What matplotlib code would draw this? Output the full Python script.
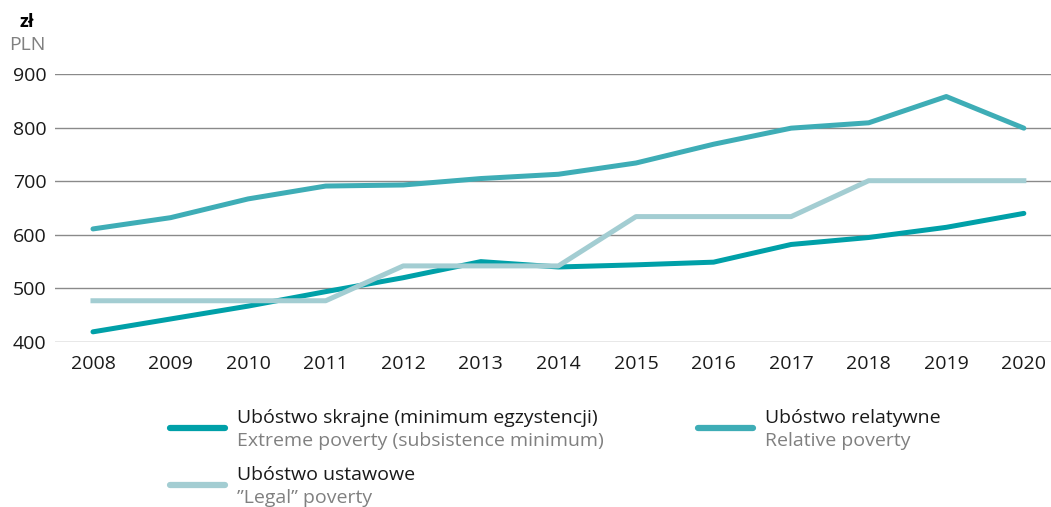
import matplotlib.pyplot as plt
from matplotlib.lines import Line2D

plt.rcParams['font.family'] = ['Open Sans', 'DejaVu Sans']

# dane
years = [2008, 2009, 2010, 2011, 2012, 2013, 2014, 2015, 2016, 2017, 2018, 2019, 2020]
skrajne = [419, 443, 467, 494, 520, 550, 540, 544, 549, 582, 595, 614, 640]
relatywne = [611, 632, 667, 691, 693, 705, 713, 734, 769, 799, 809, 858, 799]
ustawowe = [477, 477, 477, 477, 542, 542, 542, 634, 634, 634, 701, 701, 701]
y_ticks = [400, 500, 600, 700, 800, 900]

c_skrajne = '#00a0a8'
c_relatywne = '#3eadb6'
c_ustawowe = '#a3cdd2'

fig = plt.figure(figsize=(10.51, 5.07), dpi=100)
ax = fig.add_axes([0.0523, 0.3254, 0.9477, 0.5286])

ax.plot(years, relatywne, color=c_relatywne, lw=3.6, solid_capstyle='round', zorder=3)
ax.plot(years, skrajne, color=c_skrajne, lw=3.6, solid_capstyle='round', zorder=4)
ax.plot(years, ustawowe, color=c_ustawowe, lw=3.6, zorder=5)

ax.set_xlim(2007.51, 2020.35)
ax.set_ylim(400, 900)
ax.set_yticks(y_ticks)
ax.set_xticks(years)
ax.grid(axis='y', color='#8a8a8a', lw=1.0)
ax.set_axisbelow(True)
for s in ax.spines.values():
    s.set_visible(False)
ax.tick_params(length=0, labelsize=14, labelcolor='#1a1a1a')
ax.tick_params(axis='y', pad=6)
ax.tick_params(axis='x', pad=9)

fig.text(0.019, 0.957, 'zł', fontsize=13, fontweight='bold', ha='left', va='center')
fig.text(0.009, 0.912, 'PLN', fontsize=14, color='#808080', ha='left', va='center')

# legenda
def legend_item(x0, x1, y, c, top, bottom):
    fig.add_artist(Line2D([x0 / 1051, x1 / 1051], [1 - y / 507, 1 - y / 507],
                          color=c, lw=4.5, solid_capstyle='round'))
    fig.text((x1 + 12) / 1051, 1 - (y - 10) / 507, top, fontsize=14,
             color='#1a1a1a', va='center')
    fig.text((x1 + 12) / 1051, 1 - (y + 13) / 507, bottom, fontsize=14,
             color='#808080', va='center')

legend_item(170, 225, 428, c_skrajne, 'Ubóstwo skrajne (minimum egzystencji)',
            'Extreme poverty (subsistence minimum)')
legend_item(170, 225, 485, c_ustawowe, 'Ubóstwo ustawowe', '”Legal” poverty')
legend_item(698, 753, 428, c_relatywne, 'Ubóstwo relatywne', 'Relative poverty')

fig.savefig('out.png', dpi=100)
